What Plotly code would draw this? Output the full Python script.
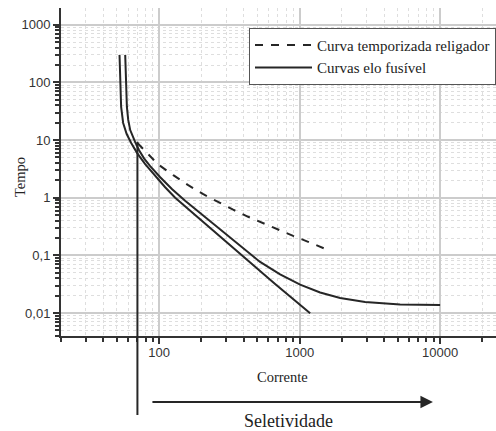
import math
import plotly.graph_objects as go

# ---- data ----
recloser_I = [70, 98, 126, 161, 206, 263, 336, 430, 550, 703, 899, 1150, 1520]
recloser_t = [8.9, 3.8, 2.46, 1.65, 1.15, 0.835, 0.62, 0.467, 0.36, 0.278, 0.218, 0.172, 0.13]

fuse_min_I = [52.2, 52.8, 53.6, 55.4, 58.7, 63.2, 69.7, 79.5, 93.7, 110.3, 130, 166.2, 250.4, 377.2, 669, 1188]
fuse_min_t = [300, 98, 37.5, 19.8, 12.7, 8.87, 5.94, 3.82, 2.37, 1.52, 1.0, 0.594, 0.251, 0.106, 0.0319, 0.0099]

fuse_clr_I = [57.3, 57.8, 58.9, 60.2, 62.2, 67.5, 72.1, 78.2, 86.3, 101.7, 123.7, 153, 230.7, 377.2, 523, 726,
              1008, 1399, 1943, 2925, 5192, 10000]
fuse_clr_t = [300, 98, 37.5, 22.3, 14.9, 9.23, 6.57, 4.77, 3.53, 2.27, 1.405, 0.887, 0.39, 0.1463, 0.0771, 0.0467,
              0.0311, 0.0227, 0.0182, 0.0155, 0.01405, 0.0138]

selectivity_I = 70      # current where selectivity starts
selectivity_t = 9.3     # top of the marker line

x_ticks = [100, 1000, 10000]
x_ticktext = ["100", "1000", "10000"]
y_ticks = [0.01, 0.1, 1, 10, 100, 1000]
y_ticktext = ["0,01", "0,1", "1", "10", "100", "1000"]

x_range = [20, 25000]
y_range = [0.004, 1950]

# minor ticks (2..9 in every decade)
x_minor = [m * 10 ** e for e in range(1, 5) for m in range(2, 10) if x_range[0] <= m * 10 ** e <= x_range[1]]
y_minor = [m * 10 ** e for e in range(-3, 4) for m in range(2, 10) if y_range[0] <= m * 10 ** e <= y_range[1]]

XR = [math.log10(v) for v in x_range]
YR = [math.log10(v) for v in y_range]


def paper_x(v):
    return (math.log10(v) - XR[0]) / (XR[1] - XR[0])


def paper_y(v):
    return (math.log10(v) - YR[0]) / (YR[1] - YR[0])


LINE = "#262626"
SERIF = "Liberation Serif, Times New Roman, serif"
SANS = "Liberation Sans, Arial, sans-serif"

fig = go.Figure()
fig.add_trace(go.Scatter(x=recloser_I, y=recloser_t, mode="lines", name="Curva temporizada religador",
                         line=dict(color=LINE, width=2, dash="8px,8px")))
fig.add_trace(go.Scatter(x=fuse_min_I, y=fuse_min_t, mode="lines", name="Curvas elo fusível",
                         legendgroup="fuse", line=dict(color=LINE, width=2)))
fig.add_trace(go.Scatter(x=fuse_clr_I, y=fuse_clr_t, mode="lines", name="Curvas elo fusível",
                         legendgroup="fuse", showlegend=False, line=dict(color=LINE, width=2)))

axis_common = dict(
    type="log", showline=True, linecolor="#333", linewidth=2, ticks="outside", ticklen=6,
    tickwidth=1.5, tickcolor="#333", showgrid=True, gridcolor="#cccccc", gridwidth=1.5,
    zeroline=False, mirror=False,
    tickfont=dict(family=SANS, size=13, color="#333"),
)

fig.update_xaxes(**axis_common, range=XR, tickmode="array", tickvals=x_ticks, ticktext=x_ticktext,
                 ticklabelstandoff=-3,
                 minor=dict(tickmode="array", tickvals=x_minor, ticks="outside", ticklen=4,
                            tickcolor="#333", tickwidth=1.5, showgrid=True, gridcolor="#dedede",
                            griddash="dot", gridwidth=1))
fig.update_yaxes(**axis_common, range=YR, tickmode="array", tickvals=y_ticks, ticktext=y_ticktext,
                 minor=dict(tickmode="array", tickvals=y_minor, ticks="outside", ticklen=4,
                            tickcolor="#333", tickwidth=1.5, showgrid=True, gridcolor="#dedede",
                            griddash="dot", gridwidth=1))

# axis titles
fig.add_annotation(xref="paper", yref="paper", x=0.51, y=-0.125, text="Corrente", showarrow=False,
                   xanchor="center", yanchor="middle", font=dict(family=SERIF, size=14.5, color="#222"))
fig.add_annotation(xref="paper", yref="paper", x=-0.094, y=0.485, text="Tempo", showarrow=False,
                   textangle=-90, xanchor="center", yanchor="middle",
                   font=dict(family=SERIF, size=14.5, color="#222"))

# selectivity marker (vertical line, extends below the plot)
fig.add_shape(type="line", xref="paper", yref="paper",
              x0=paper_x(selectivity_I), x1=paper_x(selectivity_I),
              y0=paper_y(selectivity_t), y1=-0.241,
              line=dict(color=LINE, width=2))

# selectivity arrow
fig.add_annotation(xref="paper", yref="paper", x=0.855, y=-0.201, ax=-282, ay=0,
                   text="", showarrow=True, arrowhead=2, arrowsize=1.25, arrowwidth=2,
                   arrowcolor=LINE, standoff=0, startstandoff=0)
fig.add_annotation(xref="paper", yref="paper", x=0.523, y=-0.26, text="Seletividade",
                   showarrow=False, xanchor="center", yanchor="middle",
                   font=dict(family=SERIF, size=18, color="#222"))

fig.update_layout(
    width=496, height=431,
    margin=dict(l=61, r=0, t=8, b=95),
    paper_bgcolor="white", plot_bgcolor="white",
    legend=dict(x=1, xanchor="right", y=0.94, yanchor="top", bgcolor="white",
                bordercolor="#555", borderwidth=1, itemwidth=57, tracegroupgap=0,
                font=dict(family=SERIF, size=15, color="#222")),
)

fig.write_html("out.html")
